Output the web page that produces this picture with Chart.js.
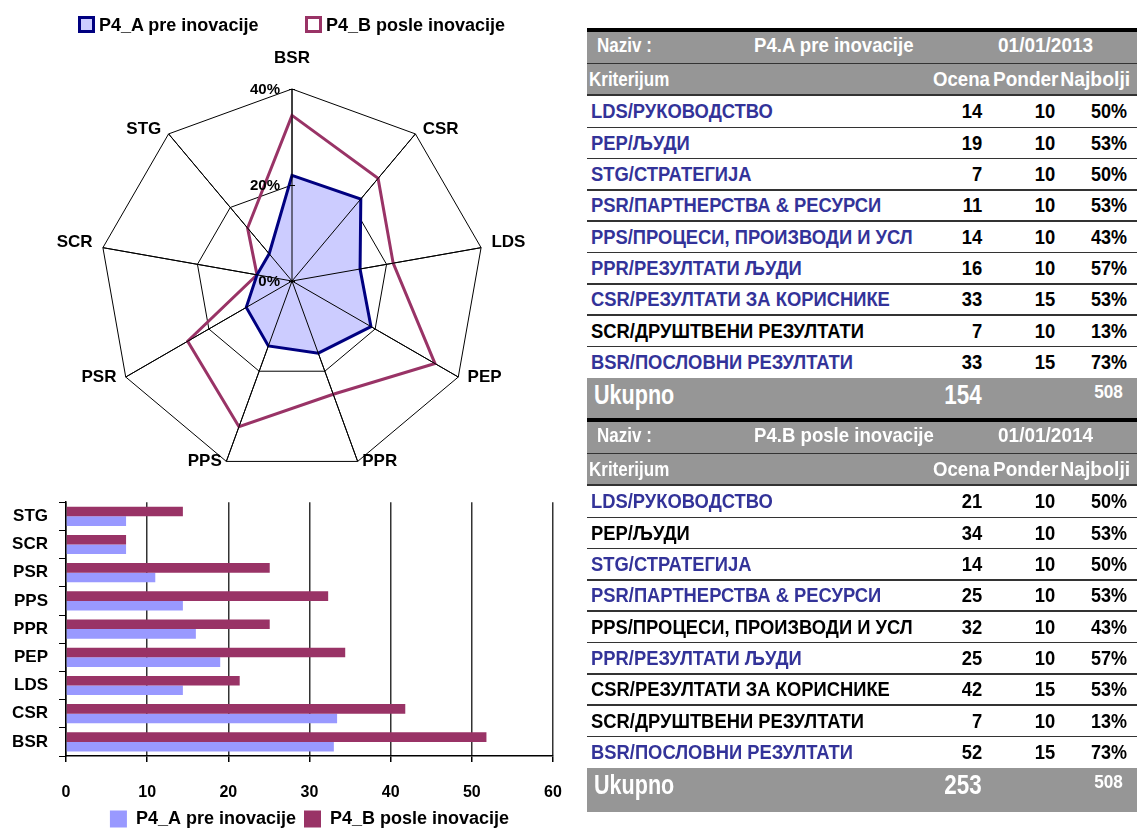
<!DOCTYPE html>
<html>
<head>
<meta charset="utf-8">
<title>P4 pre i posle inovacije</title>
<script src="https://cdn.jsdelivr.net/npm/chart.js@4.4.0/dist/chart.umd.min.js"></script>
<style>
  body { margin: 0; background: #fff; }
  #strana { position: relative; width: 1138px; height: 829px; overflow: hidden;
            font-family: "Liberation Sans", Arial, sans-serif; }
  canvas { position: absolute; }
  #radar { left: 0; top: 0; }
  #bar { left: 0; top: 481px; }
  .leg { position: absolute; top: 16px; height: 18px; font-weight: bold; font-size: 18px; white-space: nowrap; }
  .leg i { position: absolute; left: 0; top: 0; width: 11px; height: 11px; border: 3px solid; }
  .leg span { position: absolute; left: 21px; top: -2px; line-height: 22px; }
  .t { position: absolute; height: 40px; line-height: 40px; white-space: nowrap; font-weight: bold; }
</style>
</head>
<body>
<div id="strana">
  <canvas id="radar" width="584" height="500"></canvas>
  <canvas id="bar" width="605" height="357"></canvas>
</div>
<script>
// kriterijumi redom po osama radara (u smeru kazaljke, od vrha)
const kriterijumi = ['BSR', 'CSR', 'LDS', 'PEP', 'PPR', 'PPS', 'PSR', 'SCR', 'STG'];
const serije = ['P4_A pre inovacije', 'P4_B posle inovacije'];

// ocene (bodovi)
const ocenaPre = [33.0, 33.4, 14.4, 19.0, 16.0, 14.4, 11.0, 7.4, 7.4];
const ocenaPosle = [51.8, 41.8, 21.4, 34.4, 25.1, 32.3, 25.1, 7.4, 14.4];
const ponder = [15, 15, 10, 10, 10, 10, 10, 10, 10];
const najbolji = [73, 53, 50, 53, 57, 43, 53, 13, 50];

// procenti na radaru
const radarPre = [22.0, 22.3, 14.4, 19.0, 16.0, 14.4, 11.0, 7.4, 7.4];
const radarPosle = [34.5, 27.9, 21.4, 34.4, 25.1, 32.3, 25.1, 7.4, 14.4];
const radarTicks = [0, 20, 40];

const ukupno = [154, 253];
const maksimum = 508;
const datumi = ['01/01/2013', '01/01/2014'];
const naslovi = ['P4.A pre inovacije', 'P4.B posle inovacije'];

const redosledTabele = ['LDS', 'PEP', 'STG', 'PSR', 'PPS', 'PPR', 'CSR', 'SCR', 'BSR'];
const nazivi = {
  LDS: 'LDS/РУКОВОДСТВО',
  PEP: 'PEP/ЉУДИ',
  STG: 'STG/СТРАТЕГИЈА',
  PSR: 'PSR/ПАРТНЕРСТВА & РЕСУРСИ',
  PPS: 'PPS/ПРОЦЕСИ, ПРОИЗВОДИ И УСЛ',
  PPR: 'PPR/РЕЗУЛТАТИ ЉУДИ',
  CSR: 'CSR/РЕЗУЛТАТИ ЗА КОРИСНИКЕ',
  SCR: 'SCR/ДРУШТВЕНИ РЕЗУЛТАТИ',
  BSR: 'BSR/ПОСЛОВНИ РЕЗУЛТАТИ'
};
// koji su redovi ispisani plavom bojom
const plaviPre = ['LDS', 'PEP', 'STG', 'PSR', 'PPS', 'PPR', 'CSR', 'BSR'];
const plaviPosle = ['LDS', 'STG', 'PSR', 'PPR', 'BSR'];

const FONT = '"Liberation Sans", Arial, sans-serif';
Chart.defaults.font.family = FONT;
Chart.defaults.color = '#000';

const strana = document.getElementById('strana');

// legenda iznad radara
[['#000080', '#ccccff', 78], ['#993366', '#ffffff', 305]].forEach(([ivica, pozadina, x], i) => {
  const d = document.createElement('div');
  d.className = 'leg';
  d.style.left = x + 'px';
  d.innerHTML = '<i style="border-color:' + ivica + ';background:' + pozadina + '"></i><span></span>';
  d.querySelector('span').textContent = serije[i];
  strana.appendChild(d);
});

const radarOznake = {
  id: 'radarOznake',
  // ose preko popunjenog poligona
  afterDatasetsDraw(chart) {
    const {ctx, scales: {r}} = chart;
    ctx.save();
    ctx.strokeStyle = '#000';
    ctx.lineWidth = 1;
    ctx.beginPath();
    chart.data.labels.forEach((lab, i) => {
      const p = r.getPointPosition(i, r.drawingArea);
      ctx.moveTo(r.xCenter, r.yCenter);
      ctx.lineTo(p.x, p.y);
    });
    ctx.stroke();
    ctx.restore();
  },
  afterDraw(chart) {
    const {ctx, scales: {r}} = chart;
    const n = chart.data.labels.length;
    ctx.save();
    ctx.fillStyle = '#000';
    ctx.textBaseline = 'middle';
    ctx.font = 'bold 17px ' + FONT;
    chart.data.labels.forEach((lab, i) => {
      const ugao = i * 360 / n;
      if (i === 0) {
        const p = r.getPointPosition(0, r.drawingArea + 31);
        ctx.textAlign = 'center';
        ctx.fillText(lab, p.x, p.y);
        return;
      }
      const desno = ugao < 180;
      const px = r.getPointPosition(i, r.drawingArea + 9).x + (desno ? 1.5 : -1.5);
      const py = r.getPointPosition(i, r.drawingArea).y - (ugao < 90 || ugao > 270 ? 5 : 0);
      ctx.textAlign = desno ? 'left' : 'right';
      ctx.fillText(lab, px, py);
    });

    // procenti levo od gornje ose
    ctx.font = 'bold 15px ' + FONT;
    ctx.textAlign = 'right';
    ctx.strokeStyle = '#000';
    ctx.lineWidth = 1;
    radarTicks.forEach(v => {
      const d = r.getDistanceFromCenterForValue(v);
      ctx.fillText(v + '%', r.xCenter - 12, r.yCenter - d + 1);
      ctx.beginPath();
      ctx.moveTo(r.xCenter - 3, r.yCenter - d + 0.5);
      ctx.lineTo(r.xCenter + 3, r.yCenter - d + 0.5);
      ctx.stroke();
    });
    ctx.restore();
  }
};

new Chart(document.getElementById('radar'), {
  type: 'radar',
  data: {
    labels: kriterijumi,
    datasets: [
      { label: serije[0], data: radarPre, borderColor: '#000080', backgroundColor: '#ccccff',
        borderWidth: 3, fill: 'origin', pointRadius: 0 },
      { label: serije[1], data: radarPosle, borderColor: '#993366', backgroundColor: 'transparent',
        borderWidth: 3, fill: false, pointRadius: 0 }
    ]
  },
  options: {
    responsive: false,
    animation: false,
    layout: { padding: { top: 89, bottom: 26, left: 0, right: 0 } },
    plugins: { legend: { display: false }, tooltip: { enabled: false } },
    scales: {
      r: {
        min: 0, max: 40,
        ticks: { stepSize: 20, display: false },
        grid: { color: '#000', lineWidth: 1 },
        angleLines: { color: '#000', lineWidth: 1 },
        pointLabels: { display: false }
      }
    }
  },
  plugins: [radarOznake]
});

const boldFont = (size) => ({ family: FONT, size: size, weight: 'bold' });

new Chart(document.getElementById('bar'), {
  type: 'bar',
  data: {
    labels: kriterijumi,
    datasets: [
      { label: serije[1], data: ocenaPosle, backgroundColor: '#993366', categoryPercentage: 0.68, barPercentage: 1 },
      { label: serije[0], data: ocenaPre, backgroundColor: '#9999ff', categoryPercentage: 0.68, barPercentage: 1 }
    ]
  },
  options: {
    indexAxis: 'y',
    responsive: false,
    animation: false,
    layout: { padding: { left: 0, right: 52, top: 0, bottom: 0 } },
    plugins: {
      legend: {
        position: 'bottom',
        fullSize: false,
        reverse: true,
        labels: { boxWidth: 17, boxHeight: 17, padding: 8, color: '#000', font: boldFont(18) }
      },
      tooltip: { enabled: false }
    },
    scales: {
      x: {
        min: 0, max: 60,
        ticks: { stepSize: 10, color: '#000', font: boldFont(16), padding: 21 },
        grid: { color: '#333', lineWidth: 1.5, tickLength: 6, tickColor: '#000' },
        border: { color: '#000', width: 1.5 },
        afterFit: (s) => { s.height = 46; }
      },
      y: {
        reverse: true,
        ticks: { color: '#000', font: boldFont(17), padding: 11 },
        grid: { drawOnChartArea: false, tickLength: 7, color: '#000' },
        border: { color: '#000', width: 1.5 },
        afterFit: (s) => { s.width = 66; }
      }
    }
  }
});

// tabele sa ocenama
const SIVA = '#969696';
const PLAVA = '#333399';

function pravougaonik(x, y, w, h, boja) {
  const d = document.createElement('div');
  d.style.cssText = 'position:absolute;left:' + x + 'px;top:' + y + 'px;width:' + w + 'px;height:' + h + 'px;background:' + boja;
  strana.appendChild(d);
}

function tekst(str, x, yc, vel, boja, desno, sx) {
  const d = document.createElement('div');
  d.className = 't';
  d.textContent = str;
  d.style.top = (yc - 20) + 'px';
  d.style.fontSize = vel + 'px';
  d.style.color = boja;
  if (desno) {
    d.style.right = (1138 - x) + 'px';
    d.style.transformOrigin = 'right center';
  } else {
    d.style.left = x + 'px';
    d.style.transformOrigin = 'left center';
  }
  d.style.transform = 'scaleX(' + sx + ')';
  strana.appendChild(d);
}

function tabela(y0, k, ocene, plavi, visinaDna) {
  const x0 = 587, sirina = 550;
  pravougaonik(x0, y0, sirina, 3.5, '#000');
  pravougaonik(x0, y0 + 3.5, sirina, 31, SIVA);
  pravougaonik(x0, y0 + 34.5, sirina, 1.5, '#333');
  pravougaonik(x0, y0 + 36, sirina, 29.5, SIVA);
  pravougaonik(x0, y0 + 66, sirina, 1.5, '#333');

  tekst('Naziv :', 597, y0 + 17, 20, '#fff', false, 0.85);
  tekst(naslovi[k], 754, y0 + 17, 20, '#fff', false, 0.93);
  tekst(datumi[k], 998, y0 + 17, 20, '#fff', false, 0.95);
  tekst('Kriterijum', 589, y0 + 51, 20, '#fff', false, 0.85);
  tekst('Ocena', 933, y0 + 51, 20, '#fff', false, 0.93);
  tekst('Ponder', 993, y0 + 51, 20, '#fff', false, 0.95);
  tekst('Najbolji', 1130, y0 + 51, 20, '#fff', true, 0.97);

  redosledTabele.forEach((kod, i) => {
    const j = kriterijumi.indexOf(kod);
    const top = y0 + 67.7 + i * 31.33;
    const yc = top + 15.3;
    tekst(nazivi[kod], 591, yc, 21, plavi.includes(kod) ? PLAVA : '#000', false, 0.875);
    tekst(String(Math.round(ocene[j])), 982, yc, 20, '#000', true, 0.92);
    tekst(String(ponder[j]), 1055, yc, 20, '#000', true, 0.92);
    tekst(najbolji[j] + '%', 1127, yc, 20, '#000', true, 0.9);
    if (i < redosledTabele.length - 1) pravougaonik(x0, top + 30.5, sirina, 1.5, '#333');
  });

  pravougaonik(x0, y0 + 349.7, sirina, visinaDna, SIVA);
  tekst('Ukupno', 594, y0 + 367, 28, '#fff', false, 0.77);
  tekst(String(ukupno[k]), 982, y0 + 367, 28, '#fff', true, 0.8);
  tekst(String(maksimum), 1123, y0 + 363.5, 18.5, '#fff', true, 0.93);
}

tabela(28.3, 0, ocenaPre, plaviPre, 40.6);
tabela(418.3, 1, ocenaPosle, plaviPosle, 44);
</script>
</body>
</html>
